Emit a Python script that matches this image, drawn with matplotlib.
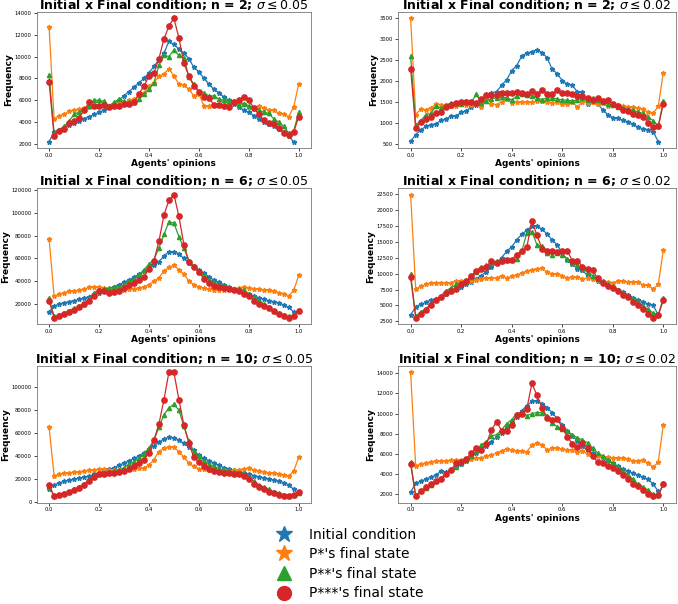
import numpy as np
import matplotlib
matplotlib.use("Agg")
import matplotlib.pyplot as plt
from matplotlib.lines import Line2D

# bin width of the opinion histograms
binStep = 0.02

# n = 2, sigma <= 0.05
init_n2_s05 = [2200, 3100, 3300, 3500, 3700, 3900, 4100, 4300, 4500, 4700,
               4900, 5100, 5400, 5700, 6000, 6400, 6800, 7200, 7600, 8000,
               8500, 9100, 9700, 10300, 11400, 11100, 10700, 10300, 9800, 9000,
               8600, 8000, 7500, 7000, 6700, 6300, 6000, 5700, 5400, 5100,
               4900, 4600, 4300, 4000, 3800, 3600, 3400, 3100, 2700, 2200]
p1_n2_s05 = [12700, 4300, 4600, 4700, 5000, 5100, 5200, 5300, 5400, 5500,
             5500, 5600, 5500, 5700, 5800, 5700, 6000, 6100, 6400, 6700,
             7300, 7600, 8200, 8400, 8900, 8200, 7500, 7400, 7000, 6400,
             6600, 5500, 5500, 5600, 5600, 5500, 5700, 5900, 5800, 5700,
             5400, 5300, 5500, 5300, 5100, 5100, 4800, 4700, 4500, 5400, 7500]
p2_n2_s05 = [8300, 3000, 3300, 3600, 4100, 4700, 4900, 5200, 5500, 6000,
             6000, 5900, 5500, 5800, 6100, 5900, 5800, 5800, 6100, 6600,
             7000, 7600, 9200, 10100, 10000, 10600, 10100, 9900, 8100, 7500,
             6800, 6700, 6400, 6400, 6100, 6000, 5900, 5800, 5600, 5700,
             5500, 5300, 5100, 4900, 4800, 4300, 4000, 3600, 3000, 3200, 4900]
p3_n2_s05 = [7700, 2700, 3200, 3400, 3900, 4100, 4400, 5100, 5800, 5500,
             5500, 5600, 5400, 5500, 5500, 5700, 5700, 5800, 6600, 7300,
             8200, 8500, 9800, 11600, 12800, 13500, 11700, 9400, 8200, 7300,
             6800, 6300, 6200, 5600, 5600, 5500, 5400, 5800, 6000, 6300,
             6000, 5300, 4700, 4200, 3900, 3800, 3500, 3000, 2800, 3100, 4500]

# n = 2, sigma <= 0.02
init_n2_s02 = [560, 720, 830, 920, 960, 980, 1060, 1100, 1160, 1160,
               1260, 1290, 1380, 1420, 1500, 1600, 1720, 1750, 1900, 2030,
               2250, 2370, 2600, 2670, 2700, 2750, 2680, 2560, 2280, 2180,
               2010, 1930, 1900, 1740, 1730, 1450, 1500, 1450, 1320, 1200,
               1130, 1110, 1060, 1030, 970, 900, 860, 840, 790, 550]
p1_n2_s02 = [3500, 1200, 1330, 1320, 1360, 1450, 1440, 1440, 1400, 1400,
             1460, 1440, 1430, 1460, 1380, 1620, 1460, 1440, 1500, 1580,
             1480, 1500, 1500, 1490, 1500, 1520, 1520, 1500, 1470, 1500,
             1460, 1450, 1500, 1380, 1500, 1480, 1500, 1460, 1480, 1400,
             1430, 1420, 1400, 1390, 1370, 1350, 1330, 1250, 1230, 1400, 2200]
p2_n2_s02 = [2600, 950, 1050, 1200, 1230, 1410, 1350, 1420, 1480, 1480,
             1450, 1520, 1500, 1680, 1480, 1530, 1580, 1600, 1620, 1600,
             1550, 1640, 1680, 1660, 1650, 1600, 1560, 1600, 1600, 1570,
             1550, 1540, 1530, 1550, 1600, 1560, 1600, 1540, 1500, 1450,
             1420, 1380, 1360, 1330, 1300, 1260, 1230, 1150, 1050, 930, 1520]
p3_n2_s02 = [2300, 870, 1020, 1100, 1150, 1240, 1260, 1380, 1430, 1480,
             1500, 1500, 1500, 1480, 1580, 1660, 1660, 1670, 1710, 1720,
             1710, 1750, 1720, 1690, 1760, 1700, 1780, 1700, 1690, 1780,
             1720, 1710, 1700, 1650, 1650, 1590, 1560, 1590, 1520, 1550,
             1450, 1400, 1300, 1290, 1220, 1200, 1150, 1010, 910, 920, 1450]

# n = 6, sigma <= 0.05
init_n6_s05 = [13000, 18000, 20000, 21000, 22000, 23000, 24000, 25000, 26500, 28500,
               30000, 32000, 33500, 35000, 37000, 39000, 41000, 43500, 46000, 49000,
               51000, 54000, 57000, 62000, 66000, 66000, 64000, 60000, 56000, 53000,
               50000, 47000, 44000, 41000, 39000, 37000, 35000, 33500, 32000, 30500,
               29000, 27000, 25500, 24000, 23000, 22000, 21000, 19000, 17000, 13000]
p1_n6_s05 = [77000, 27000, 28500, 30000, 31000, 31500, 32000, 33000, 34500, 35000,
             35000, 34000, 33500, 33000, 33000, 32000, 33000, 33500, 34000, 35000,
             37000, 40000, 43000, 49000, 52000, 54000, 50000, 46000, 40000, 37000,
             35000, 34000, 33000, 32500, 32000, 32000, 33000, 33000, 34000, 34500,
             34000, 33500, 33000, 32000, 32000, 31000, 30000, 29000, 27000, 32000, 45000]
p2_n6_s05 = [25000, 9000, 10000, 12000, 14000, 16000, 18000, 20000, 24000, 30000,
             32000, 33000, 34000, 35000, 35000, 37000, 40000, 42000, 45000, 50000,
             55000, 59000, 69000, 81000, 92000, 91000, 79000, 69000, 58000, 53000,
             48000, 45000, 41000, 39000, 37000, 36000, 34000, 33000, 33000, 32000,
             29000, 26000, 23000, 20000, 17000, 14000, 12000, 10000, 9000, 10000, 15000]
p3_n6_s05 = [23000, 8000, 9000, 11000, 13000, 15000, 17000, 20000, 23000, 27000,
             31000, 31000, 30000, 30500, 31000, 34000, 37000, 38000, 41000, 44000,
             51000, 58000, 75000, 98000, 111000, 116000, 97000, 72000, 57000, 52000,
             48000, 42000, 38000, 36000, 35000, 34000, 33000, 32000, 31000, 29000,
             27000, 23000, 20000, 18000, 16000, 14000, 11000, 9000, 8000, 9000, 14000]

# n = 6, sigma <= 0.02
init_n6_s02 = [3500, 4800, 5200, 5500, 5900, 6000, 6400, 6800, 7200, 7600,
               7900, 8300, 8700, 9200, 9700, 10300, 11000, 11700, 12500, 13500,
               14200, 15300, 16200, 16800, 17500, 17400, 17000, 16200, 15300, 14500,
               13200, 12200, 11500, 10800, 10500, 9700, 9300, 8900, 8500, 8100,
               7800, 7400, 7100, 6700, 6200, 5900, 5600, 5200, 5000, 3500]
p1_n6_s02 = [22400, 7600, 8000, 8300, 8600, 8600, 8600, 8600, 8600, 8900,
             8900, 8900, 8900, 9000, 9200, 9300, 9300, 9300, 9700, 9300,
             9600, 9800, 10100, 10400, 10600, 10800, 10900, 10200, 10000, 10000,
             9700, 9300, 9500, 9500, 9200, 9300, 9200, 9000, 8900, 8700,
             8600, 8800, 8800, 8700, 8700, 8700, 8200, 8200, 7600, 8300, 13700]
p2_n6_s02 = [10000, 3300, 4000, 4500, 5200, 5900, 6500, 7300, 7800, 8300,
             8500, 8800, 9500, 10300, 11000, 11300, 11600, 12000, 12000, 12100,
             12100, 12300, 13500, 16400, 16600, 14500, 14300, 13300, 13000, 13300,
             13000, 12300, 11700, 11300, 10800, 10300, 9700, 9200, 8800, 8300,
             8000, 7500, 7000, 6500, 6000, 5500, 4900, 4400, 3800, 3500, 6200]
p3_n6_s02 = [9400, 3100, 3700, 4300, 5100, 5800, 6400, 6900, 7300, 7600,
             8300, 8800, 9700, 10400, 10700, 11100, 12000, 11700, 12000, 12100,
             12200, 13000, 13500, 14200, 18300, 16000, 13900, 13600, 13600, 13400,
             13600, 13600, 12000, 12000, 11100, 10700, 10500, 9300, 8500, 8000,
             7800, 7300, 6700, 6300, 5600, 5000, 4400, 3700, 3100, 3500, 5800]

# n = 10, sigma <= 0.05
init_n10_s05 = [11000, 15000, 16500, 18000, 19000, 20000, 21000, 21500, 22500, 24000,
                25500, 27000, 28500, 30000, 32000, 34000, 36000, 38000, 40000, 43000,
                46000, 49000, 52000, 55000, 56500, 56000, 54000, 51000, 48000, 45000,
                41000, 38000, 36000, 34000, 32000, 30000, 29000, 27500, 26500, 25500,
                24500, 23000, 22000, 21000, 20000, 19000, 18000, 17000, 15000, 11000]
p1_n10_s05 = [65000, 23000, 24000, 25000, 25500, 26000, 26500, 27000, 27500, 28000,
              28500, 28500, 28000, 28000, 28000, 28000, 28500, 29000, 29500, 30000,
              32000, 37000, 44000, 47000, 48000, 47500, 44000, 39000, 34000, 31000,
              29000, 28500, 28000, 28000, 28000, 27500, 27000, 27500, 28000, 29000,
              29500, 28000, 27000, 26000, 25500, 25000, 24000, 23500, 22500, 27000, 39000]
p2_n10_s05 = [13000, 5500, 6500, 7500, 9000, 11000, 13000, 16000, 19000, 22000,
              24000, 25000, 26000, 27000, 28000, 30000, 33000, 35000, 38000, 42000,
              47000, 54000, 65000, 76000, 82000, 85000, 80000, 66000, 53000, 44000,
              40000, 36000, 33000, 31000, 29000, 28000, 27000, 26000, 25500, 25000,
              22000, 18000, 15000, 13000, 11000, 9000, 8000, 6500, 5500, 6500, 8000]
p3_n10_s05 = [15000, 5000, 6000, 7000, 8500, 10500, 12500, 15000, 18000, 22000,
              24000, 24500, 25000, 25000, 26000, 27000, 29000, 31000, 34000, 37000,
              43000, 54000, 68000, 89000, 113000, 113000, 89000, 67000, 51000, 39000,
              35000, 31000, 29000, 27000, 26000, 25500, 25000, 24500, 24000, 23000,
              20000, 16000, 13000, 11000, 9000, 7500, 6500, 5500, 5000, 6000, 9000]

# n = 10, sigma <= 0.02
init_n10_s02 = [2200, 3100, 3300, 3500, 3700, 3900, 4300, 4200, 4400, 4700,
                5000, 5300, 5700, 6100, 6500, 6800, 7200, 7700, 8100, 8600,
                9100, 9700, 10300, 10800, 11200, 11200, 11000, 10600, 10100, 9500,
                8900, 8300, 7800, 7300, 6800, 6300, 6100, 5900, 5600, 5400,
                5100, 4800, 4500, 4300, 4100, 3900, 3700, 3500, 3000, 2300]
p1_n10_s02 = [14100, 4800, 5000, 5100, 5200, 5300, 5300, 5300, 5400, 5400,
              5400, 5500, 5500, 5600, 5600, 5800, 5900, 6100, 6300, 6500,
              6400, 6300, 6300, 6200, 6900, 7100, 6900, 6400, 6600, 6600,
              6500, 6400, 6400, 6200, 6300, 6000, 5900, 5800, 5700, 5700,
              5600, 5600, 5600, 5500, 5300, 5300, 5400, 5100, 4700, 5200, 8900]
p2_n10_s02 = [5200, 1900, 2300, 2600, 2900, 3300, 3600, 4100, 4500, 4700,
              5100, 5400, 5800, 6300, 6900, 7200, 7800, 7900, 8400, 9000,
              9400, 10000, 10100, 9800, 10000, 10100, 10100, 9800, 9100, 8700,
              8500, 8300, 7900, 7600, 7400, 7100, 6600, 6100, 5800, 5400,
              5100, 4700, 4300, 3900, 3500, 3000, 2700, 2400, 2000, 1900, 3100]
p3_n10_s02 = [5000, 1800, 2300, 2700, 3000, 3300, 3500, 4000, 4400, 5100,
              5200, 5500, 6100, 6600, 6400, 7000, 8400, 9200, 8300, 8300,
              8900, 9900, 10000, 10500, 13000, 11800, 10600, 9600, 9400, 9500,
              8600, 7700, 7000, 6700, 7100, 6600, 5800, 5200, 5100, 4800,
              4600, 4300, 3900, 3500, 3000, 2800, 2400, 2000, 1800, 1900, 3000]

panels = [
    ("2", "0.05", init_n2_s05, p1_n2_s05, p2_n2_s05, p3_n2_s05),
    ("2", "0.02", init_n2_s02, p1_n2_s02, p2_n2_s02, p3_n2_s02),
    ("6", "0.05", init_n6_s05, p1_n6_s05, p2_n6_s05, p3_n6_s05),
    ("6", "0.02", init_n6_s02, p1_n6_s02, p2_n6_s02, p3_n6_s02),
    ("10", "0.05", init_n10_s05, p1_n10_s05, p2_n10_s05, p3_n10_s05),
    ("10", "0.02", init_n10_s02, p1_n10_s02, p2_n10_s02, p3_n10_s02),
]

legendLabels = ["Initial condition", "P*'s final state", "P**'s final state", "P***'s final state"]
colors = ["tab:blue", "tab:orange", "tab:green", "tab:red"]
markers = ["*", "*", "^", "o"]
msizes = [3.5, 3.5, 3.0, 3.8]

# axes rectangles (left, bottom, width, height) in figure fraction
colLeft = [0.054, 0.587]
colWidth = [0.405, 0.410]
rowBottom = [0.755, 0.464, 0.168]
rowHeight = [0.225, 0.224, 0.226]

fig = plt.figure(figsize=(6.78, 6.04), dpi=100)

for k, (n, sig, *series) in enumerate(panels):
    r, c = divmod(k, 2)
    ax = fig.add_axes([colLeft[c], rowBottom[r], colWidth[c], rowHeight[r]])
    for vals, col, mk, ms in zip(series, colors, markers, msizes):
        x = np.arange(len(vals)) * binStep
        ax.plot(x, vals, color=col, marker=mk, markersize=ms, linewidth=0.9)
    ax.set_title("Initial x Final condition; n = %s; $\\sigma \\leq %s$" % (n, sig),
                 fontsize=9.0, fontweight="bold", pad=2)
    ax.set_ylabel("Frequency", fontsize=6.5, fontweight="bold", labelpad=1)
    if not (r == 2 and c == 0):
        ax.set_xlabel("Agents' opinions", fontsize=6.5, fontweight="bold", labelpad=1)
    ax.tick_params(labelsize=3.8, length=2, width=0.5, pad=1.5)
    for sp in ax.spines.values():
        sp.set_linewidth(0.6)
        sp.set_color("#777777")
    ax.set_xlim(-0.05, 1.05)

handles = [Line2D([], [], linestyle="none", marker=mk, color=col, markersize=ms)
           for mk, col, ms in zip(markers, colors, [12, 12, 10, 10])]
fig.legend(handles, legendLabels, loc="center", bbox_to_anchor=(0.512, 0.066),
           frameon=False, fontsize=10, labelspacing=0.4, handletextpad=0.8)

fig.savefig("out.png", dpi=100)
